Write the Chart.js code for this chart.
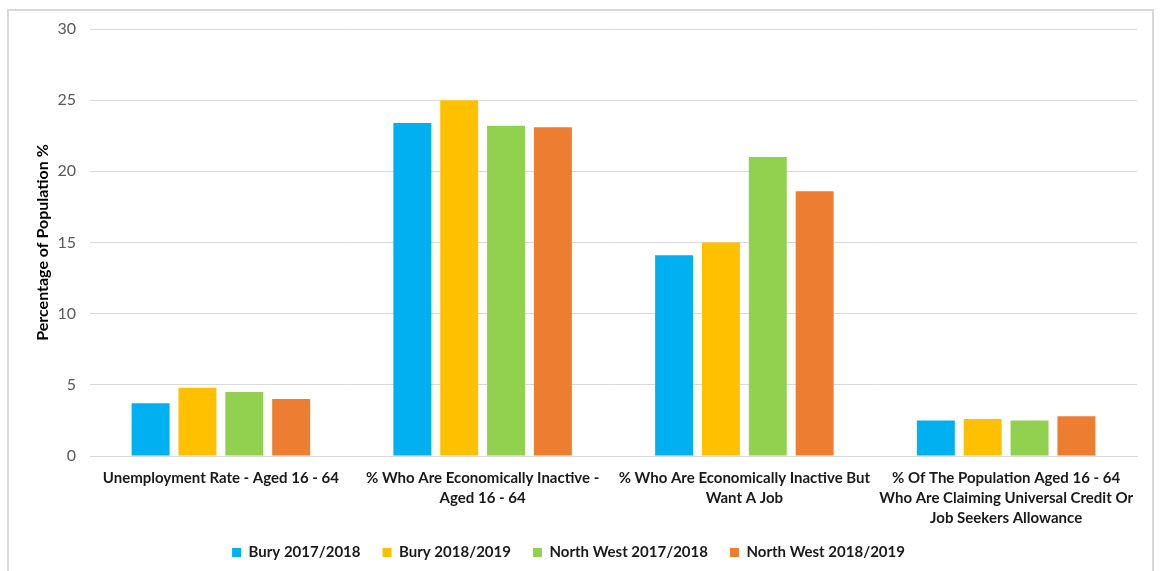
<!DOCTYPE html>
<html>
<head>
<meta charset="utf-8">
<script src="https://cdn.jsdelivr.net/npm/chart.js@4/dist/chart.umd.min.js"></script>
<style>
  html, body { margin: 0; padding: 0; background: #ffffff; }
  #frame {
    position: absolute; left: 7px; top: 9px; width: 1147px; height: 575px;
    border: 2px solid #d9d9d9; box-sizing: border-box;
  }
  #c { position: absolute; left: 0; top: 0; }
</style>
</head>
<body>
<div id="frame"></div>
<canvas id="c" width="1161" height="571"></canvas>
<script>
// Labour market indicators, Bury vs North West
const categories = [
  'Unemployment Rate - Aged 16 - 64',
  ['% Who Are Economically Inactive -', 'Aged 16 - 64'],
  ['% Who Are Economically Inactive But', 'Want A Job'],
  ['% Of The Population Aged 16 - 64', 'Who Are Claiming Universal Credit Or', 'Job Seekers Allowance']
];
const seriesNames = ['Bury 2017/2018', 'Bury 2018/2019', 'North West 2017/2018', 'North West 2018/2019'];
const bury1718 = [3.7, 23.4, 14.1, 2.5];
const bury1819 = [4.8, 25.0, 15.0, 2.6];
const nw1718 = [4.5, 23.2, 21.0, 2.5];
const nw1819 = [4.0, 23.1, 18.6, 2.8];
const yTicks = [0, 5, 10, 15, 20, 25, 30];

const colors = ['#00B0F0', '#FFC000', '#92D050', '#ED7D31'];
const values = [bury1718, bury1819, nw1718, nw1819];

const font = "Lato, 'Open Sans', sans-serif";

// The legend uses its label padding both between items and above them;
// keep the horizontal spacing but pull the row up closer to the axis labels.
const legendPlacement = {
  id: 'legendPlacement',
  afterInit(chart) {
    const lg = chart.legend;
    const fit = lg.fit.bind(lg);
    lg.fit = function () { fit(); this.height = 45; };
  },
  afterLayout(chart) {
    const lg = chart.legend;
    lg.top -= 3;
    lg.bottom -= 3;
  }
};

new Chart(document.getElementById('c'), {
  type: 'bar',
  data: {
    labels: categories,
    datasets: seriesNames.map((name, i) => ({
      label: name,
      data: values[i],
      backgroundColor: colors[i],
      borderWidth: 0,
      categoryPercentage: 0.716,
      barPercentage: 0.81
    }))
  },
  plugins: [legendPlacement],
  options: {
    responsive: false,
    animation: false,
    layout: { padding: { left: 0, right: 24, top: 29, bottom: 0 } },
    plugins: {
      tooltip: { enabled: false },
      legend: {
        position: 'bottom',
        labels: {
          boxWidth: 9, boxHeight: 9, padding: 22,
          color: '#1a1a1a',
          font: { family: font, size: 15, weight: 'bold' }
        }
      }
    },
    scales: {
      x: {
        grid: { display: false, drawTicks: false },
        border: { display: true, color: '#d9d9d9', width: 1 },
        ticks: {
          color: '#1a1a1a', padding: 12, maxRotation: 0, autoSkip: false,
          font: { family: font, size: 15, weight: 'bold', lineHeight: 20 / 15 }
        },
        afterFit: s => { s.height = 70; }
      },
      y: {
        min: 0, max: 30,
        afterBuildTicks: s => { s.ticks = yTicks.map(v => ({ value: v })); },
        grid: { color: '#d9d9d9', lineWidth: 1, drawTicks: false },
        border: { display: false },
        ticks: {
          color: '#595959', padding: 14,
          font: { family: font, size: 16 }
        },
        title: {
          display: true,
          text: 'Percentage of Population %',
          color: '#000000',
          padding: { top: 33, bottom: 0 },
          font: { family: font, size: 16, weight: 'bold' }
        },
        afterFit: s => { s.width = 90; }
      }
    }
  }
});
</script>
</body>
</html>
